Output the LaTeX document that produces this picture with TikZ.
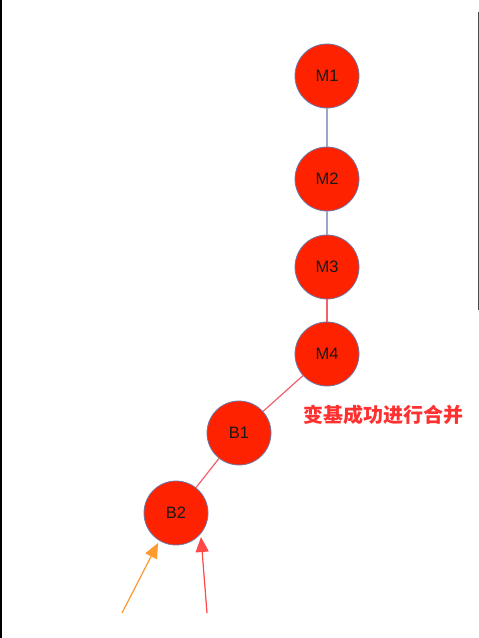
\documentclass[tikz,border=0pt]{standalone}
\usepackage{fontspec}
\setmainfont{Liberation Sans}
\newfontfamily\cjk{Noto Sans CJK SC}
\usetikzlibrary{arrows.meta}
\definecolor{cfill}{HTML}{FF2200}
\definecolor{cborder}{HTML}{6A7BA8}
\definecolor{blueedge}{HTML}{94A6CC}
\definecolor{pinkedge}{HTML}{F2606E}
\definecolor{orangearr}{HTML}{FF9A2E}
\definecolor{redarr}{HTML}{FF4848}
\definecolor{labelred}{HTML}{FF3030}
\tikzset{
  commit/.style={circle, fill=cfill, draw=cborder, line width=0.8pt, minimum size=64pt, inner sep=0pt, font=\fontsize{16.5}{18}\selectfont, text=black!90},
  bedge/.style={draw=blueedge, line width=1.2pt},
  pedge/.style={draw=pinkedge, line width=1.2pt},
  arr/.style={line width=1.2pt, -{Triangle[length=15pt,width=13pt]}}
}
\begin{document}
\begin{tikzpicture}[x=1pt,y=-1pt]
\useasboundingbox (0,0) rectangle (479,638);
\fill[white] (0,0) rectangle (479,638);
\draw[black, line width=1.6pt] (0.8,0) -- (0.8,638);
\draw[black!70, line width=1pt] (478.3,12) -- (478.3,310);
\node[commit] (M1) at (327,76) {M1};
\node[commit] (M2) at (327,179) {M2};
\node[commit] (M3) at (327,267) {M3};
\node[commit] (M4) at (327,354) {M4};
\node[commit] (B1) at (239,433) {B1};
\node[commit] (B2) at (176,513) {B2};
\path[bedge] (M1) -- (M2);
\path[bedge] (M2) -- (M3);
\path[pedge] (M3) -- (M4);
\path[pedge] (M4) -- (B1);
\path[pedge] (B1) -- (B2);
\node[font=\cjk\bfseries\fontsize{20}{22}\selectfont, text=labelred] (lab) at (383,415) {变基成功进行合并};
\coordinate (oa) at (122,613);
\coordinate (ot) at (158,543);
\coordinate (ra) at (207,613);
\coordinate (rt) at (201,537);
\draw[arr, draw=orangearr, fill=orangearr] (oa) -- (ot);
\draw[arr, draw=redarr, fill=redarr] (ra) -- (rt);
\end{tikzpicture}
\end{document}
